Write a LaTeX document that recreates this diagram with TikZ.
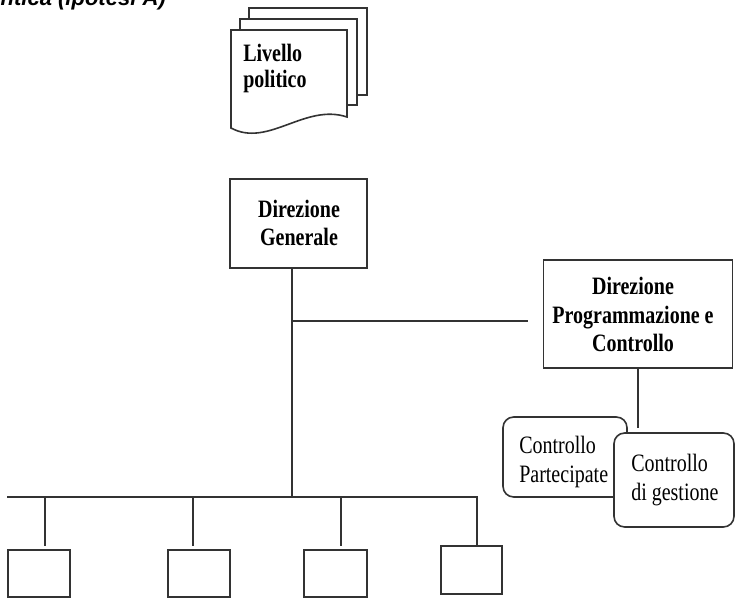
\documentclass[tikz,border=0pt]{standalone}
\usepackage{fontspec}
\setmainfont{Liberation Serif}
\newfontfamily\condserif[FakeStretch=0.8]{Liberation Serif}
\newfontfamily\headfont{Liberation Sans}
\begin{document}
\begin{tikzpicture}[x=0.75pt,y=-0.75pt,
  line/.style={draw=black!80,line width=1.2pt},
  plainbox/.style={line,fill=white,rectangle,inner sep=0pt},
  roundbox/.style={line,fill=white,rectangle,rounded corners=8pt,inner sep=0pt},
  boldtxt/.style={font=\condserif\bfseries\fontsize{18.75pt}{21.5pt}\selectfont,align=center,inner sep=0pt},
  normtxt/.style={font=\condserif\fontsize{18.75pt}{22pt}\selectfont,align=left,inner sep=0pt},
  page/.style={line,fill=white,line join=miter}]
\useasboundingbox (0,0) rectangle (735,599);
\clip (0,0) rectangle (735,599);

% heading, mostly cut by the top edge
\node[anchor=base east,inner sep=0pt,font=\headfont\bfseries\itshape\fontsize{16.5pt}{18pt}\selectfont] (head) at (166,6) {ntica (ipotesi A)};

% stacked document symbol
\draw[page] (249,8) -- (367,8) -- (367,95) -- (249,95) -- cycle;
\draw[page] (240,19) -- (357,19) -- (357,105) -- (240,105) -- cycle;
\draw[page] (231,30) -- (347,30) -- (347,117)
  .. controls (305,103) and (268,148) .. (231,128) -- cycle;
\node[normtxt,font=\condserif\bfseries\fontsize{18.75pt}{20pt}\selectfont,anchor=base west] (liv) at (243,88) {Livello\\politico};

% main boxes
\node[plainbox,minimum width=137*0.75,minimum height=89*0.75] (dg) at (298.5,223.5) {};
\node[boldtxt] (dgt) at (299,223) {Direzione\\Generale};

\node[plainbox,minimum width=189*0.75,minimum height=108*0.75] (dpc) at (638,314) {};
\node[boldtxt] (dpct) at (633,314.5) {Direzione\\Programmazione e\\Controllo};

% control units
\node[roundbox,minimum width=124*0.75,minimum height=80*0.75] (cp) at (565,457) {};
\node[normtxt,anchor=west] (cpt) at (519,462) {Controllo\\Partecipate};
\node[roundbox,minimum width=120*0.75,minimum height=94*0.75] (cg) at (674,480) {};
\node[normtxt,anchor=west] (cgt) at (631,480) {Controllo\\di gestione};

% lower units
\node[plainbox,minimum width=62*0.75,minimum height=47*0.75] (u1) at (39,573.5) {};
\node[plainbox,minimum width=62*0.75,minimum height=47*0.75] (u2) at (199,573.5) {};
\node[plainbox,minimum width=63*0.75,minimum height=47*0.75] (u3) at (335.5,573.5) {};
\node[plainbox,minimum width=61*0.75,minimum height=48*0.75] (u4) at (471.5,570) {};

% connector points
\coordinate (spine) at (292,497);
\coordinate (jdp) at (292,321);
\coordinate (hend) at (528,321);
\coordinate (cend) at (638,428);
\coordinate (busl) at (7,497);
\coordinate (busr) at (477,497);
\coordinate (t1) at (45,546);
\coordinate (t2) at (193,546);
\coordinate (t3) at (341,546);

% connectors
\draw[line] (spine |- dg.south) -- (spine);
\draw[line] (jdp) -- (hend);
\draw[line] (dpc.south) -- (cend);
\draw[line] (busl) -- (busr) -- (busr |- u4.north);
\draw[line] (busl -| t1) -- (t1);
\draw[line] (busl -| t2) -- (t2);
\draw[line] (busl -| t3) -- (t3);
\end{tikzpicture}
\end{document}
